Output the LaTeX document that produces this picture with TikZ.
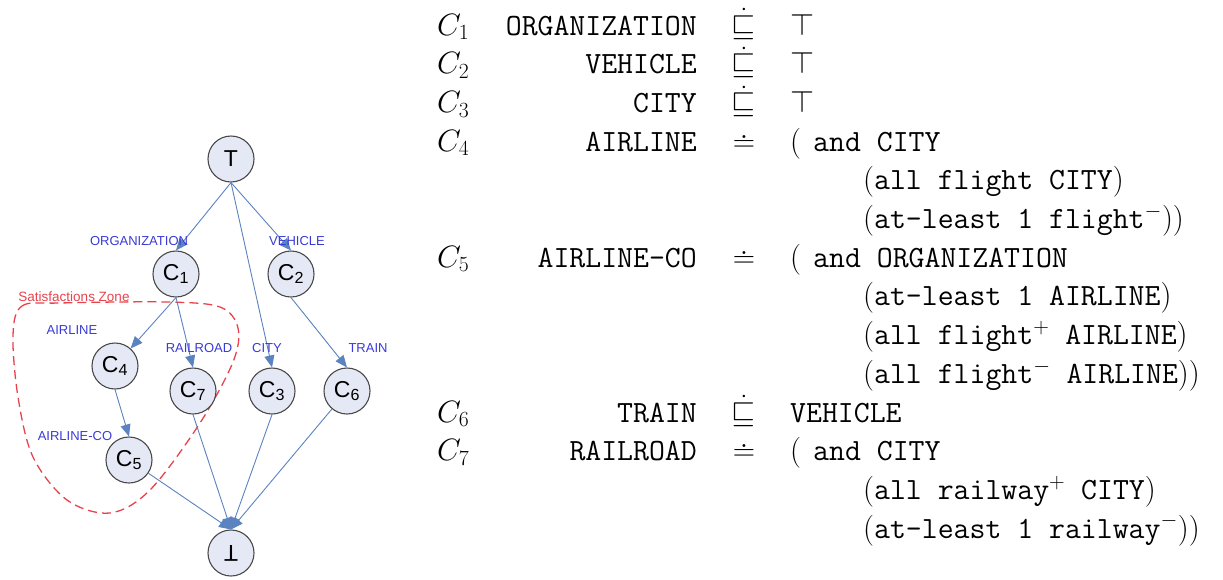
\RequirePackage{fix-cm}
\documentclass[tikz,border=0pt]{standalone}
\usepackage{fontspec}
\usepackage{graphicx}
\newfontfamily\arial{Liberation Sans}
\usetikzlibrary{arrows.meta}
\definecolor{nodefill}{HTML}{E4E9F5}
\definecolor{nodeline}{HTML}{4A4A4A}
\definecolor{edgecol}{HTML}{5B83C0}
\definecolor{lblblue}{HTML}{3A3AD6}
\definecolor{zonered}{HTML}{E8424C}
\tikzset{
  gnode/.style={circle, draw=nodeline, fill=nodefill, line width=1.1pt, minimum size=46pt, inner sep=0pt, font=\arial\fontsize{23}{23}\selectfont},
  edge/.style={draw=edgecol, line width=0.9pt, -{Triangle[length=12pt,width=10pt]}},
  elabel/.style={text=lblblue, font=\arial\fontsize{13}{13}\selectfont, inner sep=0pt},
  txt/.style={inner sep=0pt, font=\fontsize{30.9}{38.7}\selectfont},
}
\begin{document}
\begin{tikzpicture}[x=1pt,y=-1pt]
\useasboundingbox (0,0) rectangle (1223,579);
% zone
\draw[zonered, line width=1.3pt, dash pattern=on 9pt off 5pt] plot[smooth cycle, tension=0.55] coordinates {
 (13,335) (22,306) (60,303) (167,302) (220,307) (238,328) (233,362) (200,423) (150,490) (110,513) (67,500) (33,457) (18,397)};
\node[text=zonered, font=\arial\fontsize{13.5}{13.5}\selectfont, inner sep=0pt] (zl) at (74,297) {Satisfactions Zone};
% nodes
\node[gnode] (top) at (231,159) {T};
\node[gnode] (c1) at (176,274) {C\textsubscript{1}};
\node[gnode] (c2) at (291,274) {C\textsubscript{2}};
\node[gnode] (c4) at (115,366) {C\textsubscript{4}};
\node[gnode] (c7) at (193,391) {C\textsubscript{7}};
\node[gnode] (c3) at (272,391) {C\textsubscript{3}};
\node[gnode] (c6) at (347,391) {C\textsubscript{6}};
\node[gnode] (c5) at (129,460) {C\textsubscript{5}};
\node[gnode] (bot) at (231,553) {\rotatebox{180}{T}};
% edges
\draw[edge] (top.south) -- (c1.north);
\draw[edge] (top.south) -- (c2.north);
\draw[edge] (top.south) -- (c3.north);
\draw[edge] (c1.south) -- (c4);
\draw[edge] (c1.south) -- (c7.north);
\draw[edge] (c2.south) -- (c6.north);
\draw[edge] (c4.south) -- (c5.north);
\draw[edge] (c5) -- (bot.north);
\draw[edge] (c7.south) -- (bot.north);
\draw[edge] (c3.south) -- (bot.north);
\draw[edge] (c6) -- (bot.north);
% edge labels
\node[elabel] (lorg) at (139,241) {ORGANIZATION};
\node[elabel] (lveh) at (297,241) {VEHICLE};
\node[elabel] (lair) at (72,330) {AIRLINE};
\node[elabel] (lrail) at (199,348) {RAILROAD};
\node[elabel] (lcity) at (267,348) {CITY};
\node[elabel] (ltrain) at (368,348) {TRAIN};
\node[elabel] (lairco) at (75,436) {AIRLINE-CO};
% right text
\foreach \i/\c/\name/\rel in {1/1/ORGANIZATION/s, 2/2/VEHICLE/s, 3/3/CITY/s, 4/4/AIRLINE/e, 7/5/AIRLINE-CO/e, 11/6/TRAIN/s, 12/7/RAILROAD/e}{
  \pgfmathsetmacro{\yy}{35+38.7*(\i-1)}
  \node[txt, anchor=base west] (ci\i) at (437,\yy) {$C_{\c}$};
  \node[txt, anchor=base east] (nm\i) at (697,\yy) {\texttt{\name}};
  \if s\rel
    \node[txt, anchor=base] (rl\i) at (744,\yy) {$\dot\sqsubseteq$};
  \else
    \node[txt, anchor=base] (rl\i) at (744,\yy) {$\doteq$};
  \fi
}
\node[txt, anchor=base west] (r1) at (790,35) {$\top$};
\node[txt, anchor=base west] (r2) at (790,73.7) {$\top$};
\node[txt, anchor=base west] (r3) at (790,112.4) {$\top$};
\node[txt, anchor=base west] (p4) at (790,151.1) {$($};
\node[txt, anchor=base west] (r4) at (813,151.1) {\texttt{and CITY}};
\node[txt, anchor=base west] (r5) at (863,189.8) {$($\texttt{all flight CITY}$)$};
\node[txt, anchor=base west] (r6) at (863,228.5) {$($\texttt{at-least 1 flight}$^{-}))$};
\node[txt, anchor=base west] (p7) at (790,267.2) {$($};
\node[txt, anchor=base west] (r7) at (813,267.2) {\texttt{and ORGANIZATION}};
\node[txt, anchor=base west] (r8) at (863,305.9) {$($\texttt{at-least 1 AIRLINE}$)$};
\node[txt, anchor=base west] (r9) at (863,344.6) {$($\texttt{all flight}$^{+}$\texttt{\ AIRLINE}$)$};
\node[txt, anchor=base west] (r10) at (863,383.3) {$($\texttt{all flight}$^{-}$\texttt{\ AIRLINE}$))$};
\node[txt, anchor=base west] (r11) at (790,422) {\texttt{VEHICLE}};
\node[txt, anchor=base west] (p12) at (790,460.7) {$($};
\node[txt, anchor=base west] (r12) at (813,460.7) {\texttt{and CITY}};
\node[txt, anchor=base west] (r13) at (863,499.4) {$($\texttt{all railway}$^{+}$\texttt{\ CITY}$)$};
\node[txt, anchor=base west] (r14) at (863,538.1) {$($\texttt{at-least 1 railway}$^{-}))$};
\end{tikzpicture}
\end{document}
